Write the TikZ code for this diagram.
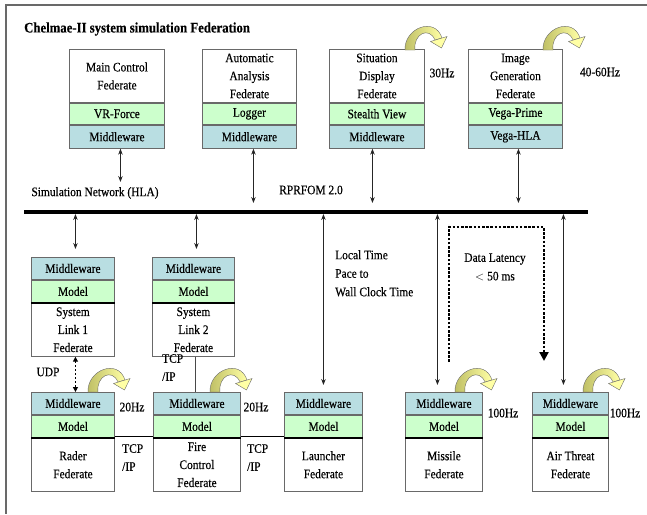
\documentclass[tikz,border=0pt]{standalone}
\usepackage{fontspec}
\setmainfont[FakeStretch=0.88, FakeBold=0.35]{Liberation Serif}
\usetikzlibrary{arrows.meta,calc}
\definecolor{mwblue}{RGB}{185,222,226}
\definecolor{mdgreen}{RGB}{204,255,204}
\definecolor{loopdark}{RGB}{190,190,100}
\definecolor{looplight}{RGB}{255,255,165}
\definecolor{edgec}{RGB}{105,105,105}
\newcommand\fedtop[6]{%
  \node[wt, minimum width=#3, minimum height=53] (#1-w) at (#2,49) {#4};
  \node[md, minimum width=#3, minimum height=21] (#1-g) at (#1-w.south west) {#5};
  \node[mw, minimum width=#3, minimum height=23] (#1-b) at (#1-g.south west) {#6};
}
\newcommand\fedbot[5]{%
  \node[mw, minimum width=#4, minimum height=22] (#1-b) at (#2,#3) {Middleware};
  \node[md, minimum width=#4, minimum height=22] (#1-g) at (#1-b.south west) {Model};
  \node[wt, minimum width=#4, minimum height=53] (#1-w) at (#1-g.south west) {#5};
  \draw[line width=1.8pt] (#1-g.south west) -- (#1-g.south east);
}
\begin{document}
\begin{tikzpicture}[x=1pt,y=-1pt,
  txt/.style={font=\fontsize{13}{18}\selectfont, inner sep=0pt},
  part/.style={txt, draw=edgec, line width=0.9pt, anchor=north west, align=center},
  wt/.style={part, fill=white},
  mw/.style={part, fill=mwblue},
  md/.style={part, fill=mdgreen},
  arr/.style={draw=black!85, line width=0.7pt, {Stealth[length=6pt,width=4.5pt]}-{Stealth[length=6pt,width=4.5pt]}},
  latency/.style={draw=black, line width=2.6pt, dash pattern=on 2.6pt off 1.6pt, -{Triangle[length=9pt,width=9pt]}},
  udp/.style={draw=black, line width=1.8pt, dash pattern=on 2pt off 2pt, {Triangle[length=5pt,width=5pt]}-{Triangle[length=5pt,width=5pt]}},
  loopy/.pic={
    \path[draw=edgec, line width=0.4pt, left color=loopdark, right color=looplight]
      (0,0) .. controls (-1,-22) and (30,-34) .. (37,-12) -- (30,-10)
      .. controls (24,-24) and (8,-16) .. (10,0) -- cycle;
    \path[draw=edgec, line width=0.4pt, fill=looplight]
      (25.5,-8.5) -- (42,-13.5) -- (36.5,-2) -- cycle;
  }
]
\useasboundingbox (0,0) rectangle (647,514);
% frame
\coordinate (frTR) at (647,5);
\coordinate (frTL) at (6,5);
\coordinate (frBL) at (6,514);
\draw[edgec, line width=1.3pt] (frTR) -- (frTL) -- (frBL);
% title
\node[font=\bfseries\fontsize{14.5}{16}\selectfont, anchor=west, inner sep=0pt] (title) at (24,29) {Chelmae-II system simulation Federation};

% top federates
\fedtop{b1}{69}{95}{Main Control\\Federate}{VR-Force}{Middleware}
\fedtop{b2}{202}{94}{Automatic\\Analysis\\Federate}{Logger}{Middleware}
\fedtop{b3}{329}{95}{Situation\\Display\\Federate}{Stealth View}{Middleware}
\fedtop{b4}{468}{94}{Image\\Generation\\Federate}{Vega-Prime}{Vega-HLA}

% loops top
\pic at (405,50) {loopy};
\pic at (543,50) {loopy};
\node[txt] (hz30) at (442,73) {30Hz};
\node[txt] (hz4060) at (600,72) {40-60Hz};

% bus
\coordinate (busL) at (24,212);
\coordinate (busR) at (588,212);
\draw[line width=4pt] (busL) -- (busR);

\node[txt] (simnet) at (95,193) {Simulation Network (HLA)};
\node[txt] (rpr) at (311,190) {RPRFOM 2.0};

% top connectors
\draw[arr, shorten >=30pt] ([xshift=3.5pt]b1-b.south) -- ([xshift=3.5pt]b1-b.south |- busL);
\draw[arr, shorten >=9pt] ([xshift=4pt]b2-b.south) -- ([xshift=4pt]b2-b.south |- busL);
\draw[arr, shorten >=9pt] ([xshift=-4.5pt]b3-b.south) -- ([xshift=-4.5pt]b3-b.south |- busL);
\draw[arr, shorten >=9pt] ([xshift=3pt]b4-b.south) -- ([xshift=3pt]b4-b.south |- busL);

% system link federates
\fedbot{sl1}{31}{257}{83}{System\\Link 1\\Federate}
\fedbot{sl2}{152}{257}{82}{System\\Link 2\\Federate}

% bottom federates
\fedbot{ra}{31}{392}{83}{Rader\\Federate}
\fedbot{fc}{153}{392}{87}{Fire\\Control\\Federate}
\fedbot{la}{284}{392}{78}{Launcher\\Federate}
\fedbot{mi}{405}{392}{77}{Missile\\Federate}
\fedbot{at}{532}{392}{76}{Air Threat\\Federate}

% bus to lower connectors
\draw[arr, shorten <=2pt, shorten >=8pt] ([xshift=2.5pt]sl1-b.north |- busL) -- ([xshift=2.5pt]sl1-b.north);
\draw[arr, shorten <=2pt, shorten >=8pt] ([xshift=3pt]sl2-b.north |- busL) -- ([xshift=3pt]sl2-b.north);
\draw[arr, shorten <=2pt, shorten >=7pt] (la-b.north |- busL) -- (la-b.north);
\draw[arr, shorten <=2pt, shorten >=7pt] ([xshift=-6.5pt]mi-b.north |- busL) -- ([xshift=-6.5pt]mi-b.north);
\draw[arr, shorten <=2pt, shorten >=7pt] ([xshift=-7pt]at-b.north |- busL) -- ([xshift=-7pt]at-b.north);

% texts in middle
\node[txt, anchor=north west, align=left, font=\fontsize{13}{18.5}\selectfont] (localtime) at (335,250) {Local Time\\Pace to\\Wall Clock Time};
\node[txt, align=center, font=\fontsize{13}{18.5}\selectfont] (latency) at (495,267) {Data Latency\\$<$ 50 ms};

% latency dotted arrow
\coordinate (latA) at (449,362);
\coordinate (latC) at (544,227);
\coordinate (latB) at (544,361);
\draw[latency] (latA) |- (latC) -- (latB);

% UDP
\draw[udp] ([xshift=2.5pt]sl1-w.south) -- ([xshift=2.5pt]ra-b.north);
\node[txt] (udplbl) at (48,372) {UDP};

% TCP/IP vertical
\draw[edgec!70!black, line width=1.6pt] ([xshift=2pt]sl2-w.south) -- ([xshift=2pt]sl2-w.south |- fc-b.north);
\node[txt, anchor=north west, align=left] (tcp1) at (162,354) {TCP\\/IP};

% double lines between bottom boxes
\draw[double, double distance=1.6pt, line width=0.6pt] (ra-g.south east) -- (fc-g.south west);
\draw[double, double distance=1.6pt, line width=0.6pt] (fc-g.south east) -- (la-g.south west);
\node[txt, anchor=north west, align=left] (tcp2) at (122,444) {TCP\\/IP};
\node[txt, anchor=north west, align=left] (tcp3) at (247,444) {TCP\\/IP};

% bottom loops and rates
\pic at (88,392) {loopy};
\pic at (210,392) {loopy};
\pic at (455,392) {loopy};
\pic at (583,392) {loopy};
\node[txt] (hz20a) at (132,407) {20Hz};
\node[txt] (hz20b) at (256,407) {20Hz};
\node[txt] (hz100a) at (503,413) {100Hz};
\node[txt] (hz100b) at (625,413) {100Hz};
\end{tikzpicture}
\end{document}
